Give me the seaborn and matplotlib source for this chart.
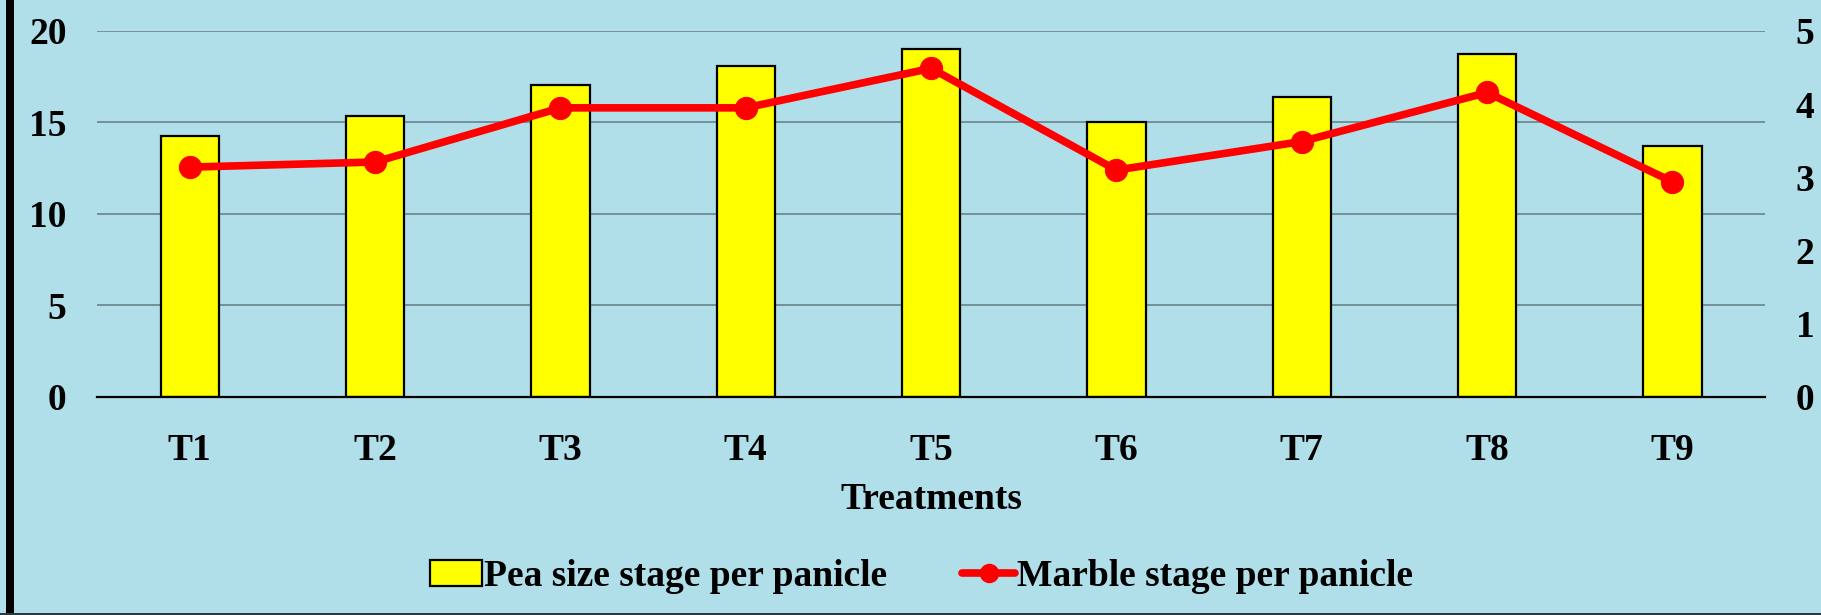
import matplotlib
matplotlib.use("Agg")
import matplotlib.pyplot as plt
from matplotlib.patches import Rectangle, Patch
from matplotlib.lines import Line2D
import seaborn as sns
import pandas as pd

treatments = ["T1", "T2", "T3", "T4", "T5", "T6", "T7", "T8", "T9"]
pea_size = [14.28, 15.35, 17.05, 18.08, 19.04, 15.03, 16.38, 18.72, 13.70]
marble = [3.14, 3.21, 3.95, 3.95, 4.49, 3.10, 3.49, 4.16, 2.94]

bg = "#b0dfe9"
sns.set_theme(style="white")
plt.rcParams["font.family"] = ["Liberation Serif", "DejaVu Serif"]
plt.rcParams["font.weight"] = "bold"
plt.rcParams["text.color"] = "black"
plt.rcParams["xtick.color"] = "black"
plt.rcParams["ytick.color"] = "black"
plt.rcParams["axes.labelcolor"] = "black"

df = pd.DataFrame({"Treatment": treatments, "Pea": pea_size, "Marble": marble})

fig = plt.figure(figsize=(18.21, 6.15), dpi=100, facecolor=bg)
ax = fig.add_axes([0.0533, 0.3545, 0.916, 0.5951])
ax.set_facecolor("none")

sns.barplot(data=df, x="Treatment", y="Pea", ax=ax, color="#ffff00",
            edgecolor="black", linewidth=1.6, width=0.315, saturation=1)
ax.set_ylim(0, 20)
ax.set_yticks([0, 5, 10, 15, 20])
ax.grid(axis="y", color="#5a6a70", linewidth=1.2, alpha=0.8)
ax.set_axisbelow(True)
for s in ["top", "right", "left"]:
    ax.spines[s].set_visible(False)
ax.spines["bottom"].set_color("black")
ax.spines["bottom"].set_linewidth(1.6)
ax.tick_params(axis="y", length=0, pad=22, labelsize=27)
ax.tick_params(axis="x", length=0, pad=26, labelsize=27)
ax.set_xlabel("Treatments", fontsize=27, fontweight="bold", labelpad=10)
ax.set_ylabel("")

ax2 = ax.twinx()
sns.lineplot(data=df, x="Treatment", y="Marble", ax=ax2, color="#ff0000",
             linewidth=5.5, marker="o", markersize=16, markeredgecolor="#ff0000",
             sort=False)
ax2.set_ylim(0, 5)
ax2.set_yticks([0, 1, 2, 3, 4, 5])
ax2.set_ylabel("")
for s in ["top", "right", "left", "bottom"]:
    ax2.spines[s].set_visible(False)
ax2.tick_params(axis="y", length=0, pad=22, labelsize=27)
ax.set_xlim(-0.5, len(treatments) - 0.5)

handles = [
    Patch(facecolor="#ffff00", edgecolor="black", linewidth=1.6),
    Line2D([], [], color="#ff0000", linewidth=5.5, marker="o", markersize=13),
]
labels = ["Pea size stage per panicle", "Marble stage per panicle"]
fig.legend(handles, labels, loc="center", bbox_to_anchor=(0.506, 0.063),
           ncol=2, frameon=False, fontsize=27, handlelength=1.4,
           handletextpad=0.05, columnspacing=2.0)

# frame edges of the original image
fig.add_artist(Rectangle((0.0033, 0), 0.0045, 1, transform=fig.transFigure,
                         facecolor="black", edgecolor="none"))
fig.add_artist(Rectangle((0, 0), 1, 0.004, transform=fig.transFigure,
                         facecolor="#2a3a40", edgecolor="none"))

fig.savefig("out.png", dpi=100, facecolor=bg)
